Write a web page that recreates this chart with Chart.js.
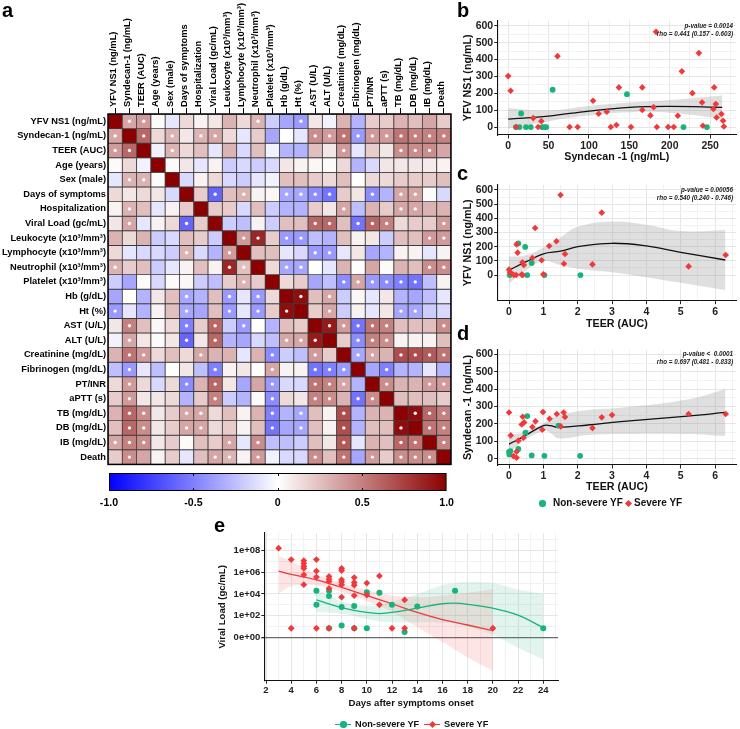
<!DOCTYPE html>
<html><head><meta charset="utf-8">
<script src="https://cdn.jsdelivr.net/npm/chart.js@4.4.1/dist/chart.umd.min.js"></script>
<style>
html,body{margin:0;padding:0;background:#fff}
body{width:740px;height:729px;position:relative;overflow:hidden;font-family:"Liberation Sans",Arial,Helvetica,sans-serif;color:#000}
canvas{position:absolute}
.pl{position:absolute;font-weight:bold;font-size:20px;line-height:20px}
.stat{position:absolute;font-style:italic;font-weight:bold;font-size:6.3px;line-height:8px;text-align:right;color:#222;width:150px}
.lg{position:absolute;font-weight:bold;white-space:nowrap;color:#111}
.dot{position:absolute;border-radius:50%}
.dia{position:absolute;transform:rotate(45deg)}
.ln{position:absolute;height:1.3px}
</style></head><body>
<canvas id="heat" width="455" height="472" style="left:0px;top:0px"></canvas>
<canvas id="cbar" width="460" height="42" style="left:0px;top:470px"></canvas>
<canvas id="pb" width="285" height="170" style="left:455px;top:0px"></canvas>
<canvas id="pc" width="285" height="170" style="left:455px;top:165px"></canvas>
<canvas id="pd" width="285" height="165" style="left:455px;top:330px"></canvas>
<canvas id="pe" width="365" height="205" style="left:200px;top:510px"></canvas>

<div class="pl" style="left:2px;top:0px">a</div>
<div class="pl" style="left:457px;top:0px">b</div>
<div class="pl" style="left:457px;top:163px">c</div>
<div class="pl" style="left:457px;top:323px">d</div>
<div class="pl" style="left:214px;top:515px">e</div>

<div class="stat" style="left:583px;top:22px">p-value = 0.0014<br>rho = 0.441 (0.157 - 0.603)</div>
<div class="stat" style="left:583px;top:186px">p-value = 0.00056<br>rho = 0.540 (0.240 - 0.746)</div>
<div class="stat" style="left:583px;top:350px">p-value &lt;&nbsp; 0.0001<br>rho = 0.697 (0.481 - 0.833)</div>

<div class="dot" style="left:539px;top:500px;width:6.5px;height:6.5px;background:#17B37A"></div>
<div class="lg" style="left:553px;top:497px;font-size:10px;line-height:12px">Non-severe YF</div>
<div class="dia" style="left:625.5px;top:500.5px;width:5px;height:5px;background:#F0393B"></div>
<div class="lg" style="left:634px;top:497px;font-size:10px;line-height:12px">Severe YF</div>

<div class="ln" style="left:335px;top:723.5px;width:16px;background:#17B37A"></div>
<div class="dot" style="left:340px;top:721px;width:6.5px;height:6.5px;background:#17B37A"></div>
<div class="lg" style="left:355px;top:718.5px;font-size:9.2px;line-height:11px">Non-severe YF</div>
<div class="ln" style="left:424px;top:723.5px;width:16px;background:#F0393B"></div>
<div class="dia" style="left:429.5px;top:721.5px;width:5px;height:5px;background:#F0393B"></div>
<div class="lg" style="left:444px;top:718.5px;font-size:9.2px;line-height:11px">Severe YF</div>

<script>
// ---------------- DATA ----------------
const varLabels = ['YFV NS1 (ng/mL)','Syndecan-1 (ng/mL)','TEER (AUC)','Age (years)','Sex (male)','Days of symptoms','Hospitalization','Viral Load (gc/mL)','Leukocyte (x10³/mm³)','Lymphocyte (x10³/mm³)','Neutrophil (x10³/mm³)','Platelet (x10³/mm³)','Hb (g/dL)','Ht (%)','AST (U/L)','ALT (U/L)','Creatinine (mg/dL)','Fibrinogen (mg/dL)','PT/INR','aPTT (s)','TB (mg/dL)','DB (mg/dL)','IB (mg/dL)','Death'];

const corrYFV   = [1,0.35,0.4,0.02,-0.1,0.15,0.05,0.1,0.3,0.15,0.3,-0.2,-0.35,-0.4,0.1,-0.05,0.3,-0.3,0.2,0.2,0.3,0.25,0.35,0.2];
const corrSyn   = [0.35,1,0.6,0.15,0.3,0.1,0.3,0.35,0.15,-0.1,0.2,-0.35,0,-0.1,0.45,0.4,0.55,-0.4,0.4,0.4,0.55,0.5,0.5,0.5];
const corrTEER  = [0.4,0.6,1,-0.05,0.3,0.15,0.25,-0.1,0.3,-0.15,0.25,-0.05,-0.3,-0.3,0.25,0.1,0.4,-0.1,0.2,0.1,0.45,0.45,0.45,0.35];
const corrAge   = [0.02,0.15,-0.05,1,0.02,0.1,-0.1,0.05,-0.2,-0.15,-0.2,-0.15,0.1,0.05,0.03,0.02,0.15,-0.3,-0.15,0.1,0.1,0.1,0.08,0.05];
const corrSex   = [-0.1,0.3,0.3,0.02,1,-0.15,0.05,0.15,-0.15,-0.2,-0.1,-0.05,0.25,0.25,0.2,0.15,0.25,0,0.15,0.15,0.2,0.2,0.2,0.25];
const corrDays  = [0.15,0.1,0.15,0.1,-0.15,1,0.2,-0.6,0.25,0.3,0.05,0.03,-0.35,-0.35,-0.45,-0.55,0.2,0.1,-0.45,-0.3,0.35,0.35,0.02,-0.15];
const corrHosp  = [0.05,0.3,0.25,-0.1,0.05,0.2,1,0.2,0.2,-0.15,0.25,-0.2,-0.3,-0.3,0.2,0.1,0.35,-0.25,0.3,0.2,0.35,0.35,0.3,0.3];
const corrVL    = [0.1,0.35,-0.1,0.05,0.15,-0.6,0.2,1,-0.2,-0.25,0.05,-0.2,0.25,0.25,0.6,0.6,0.25,-0.55,0.6,0.5,0.15,0.2,0.2,0.4];
const corrLeuk  = [0.3,0.15,0.3,-0.2,-0.15,0.25,0.2,-0.2,1,0.4,0.85,0.2,-0.4,-0.4,-0.25,-0.3,0.25,0.05,0.1,-0.2,0.25,0.25,0.4,0.4];
const corrLymph = [0.15,-0.1,-0.15,-0.15,-0.2,0.3,-0.15,-0.3,0.4,1,0.25,0.25,-0.1,-0.15,-0.4,-0.4,-0.1,0.1,-0.35,-0.3,0.05,0.05,-0.1,0.05];
const corrNeut  = [0.3,0.2,0.25,-0.2,-0.1,0.05,0.25,0.05,0.85,0.25,1,0.15,-0.35,-0.35,0,-0.1,0.3,0,0.35,0.02,0.3,0.25,0.45,0.45];
const corrPlat  = [-0.2,-0.35,0.02,-0.15,0.02,0.03,-0.2,-0.25,0.2,0.3,0.2,1,0.15,0.2,-0.35,-0.25,-0.45,0.35,-0.4,-0.45,-0.5,-0.55,-0.25,0.05];
const corrHb    = [-0.35,0,-0.3,0.1,0.25,-0.35,-0.3,0.25,-0.4,-0.1,-0.4,0.15,1,0.95,0.25,0.35,-0.2,0.03,-0.1,0.1,-0.3,-0.35,-0.25,-0.1];
const corrHt    = [-0.4,-0.1,-0.3,0.05,0.25,-0.35,-0.35,0.25,-0.4,-0.1,-0.4,0.2,0.95,1,0.2,0.35,-0.2,0.05,-0.1,0.1,-0.35,-0.35,-0.2,-0.15];
const corrAST   = [0.1,0.5,0.25,0.03,0.15,-0.5,0.2,0.6,-0.2,-0.4,0,-0.3,0.25,0.2,1,0.9,0.4,-0.55,0.55,0.5,0.25,0.25,0.25,0.45];
const corrALT   = [-0.05,0.35,0.1,0.02,0.1,-0.6,0.1,0.6,-0.3,-0.35,-0.15,-0.25,0.35,0.35,0.9,1,0.2,-0.45,0.5,0.45,0.05,0.05,0.05,0.25];
const corrCreat = [0.3,0.55,0.4,0.15,0.25,0.15,0.35,0.3,0.3,-0.1,0.3,-0.45,-0.2,-0.25,0.4,0.2,1,-0.35,0.35,0.3,0.7,0.7,0.65,0.55];
const corrFibr  = [-0.25,-0.4,-0.1,-0.25,0,0.1,-0.25,-0.5,0.05,0.1,0,0.35,0.05,0.05,-0.55,-0.5,-0.4,1,-0.35,-0.5,-0.3,-0.3,-0.1,-0.3];
const corrPT    = [0.15,0.4,0.15,-0.15,0.15,-0.45,0.3,0.6,0.1,-0.35,0.35,-0.4,-0.15,-0.15,0.55,0.5,0.35,-0.3,1,0.45,0.3,0.3,0.4,0.4];
const corrAPTT  = [0.2,0.4,0.1,0.1,0.15,-0.3,0.2,0.5,-0.2,-0.3,0.02,-0.45,0.15,0.1,0.5,0.45,0.3,-0.55,0.45,1,0.25,0.25,0.25,0.2];
const corrTB    = [0.3,0.6,0.45,0.1,0.2,0.35,0.35,0.15,0.25,0.05,0.3,-0.5,-0.3,-0.35,0.25,0.05,0.7,-0.3,0.3,0.3,1,0.95,0.6,0.5];
const corrDB    = [0.25,0.6,0.45,0.1,0.2,0.35,0.35,0.15,0.2,0.05,0.25,-0.55,-0.35,-0.35,0.25,0.05,0.7,-0.3,0.25,0.25,0.95,1,0.55,0.5];
const corrIB    = [0.35,0.5,0.45,0.1,0.2,0.02,0.25,0.2,0.35,-0.1,0.45,-0.25,-0.25,-0.2,0.25,0.1,0.65,-0.1,0.3,0.25,0.6,0.55,1,0.5];
const corrDeath = [0.2,0.45,0.35,0.05,0.2,-0.1,0.25,0.35,0.3,0.05,0.4,-0.05,-0.15,-0.15,0.45,0.25,0.55,-0.35,0.4,0.2,0.45,0.45,0.45,1];
const corrRows = [corrYFV,corrSyn,corrTEER,corrAge,corrSex,corrDays,corrHosp,corrVL,corrLeuk,corrLymph,corrNeut,corrPlat,corrHb,corrHt,corrAST,corrALT,corrCreat,corrFibr,corrPT,corrAPTT,corrTB,corrDB,corrIB,corrDeath];

// significant cells (column indexes) per row
const sigCols = [
 [1,2,10,13],[0,2,4,6,7,14,15,16,17,18,19,20,21,22,23],[0,1,4,16,20,21,22],[],[1,2],
 [7,9,12,13,14,15,18,20,21],[1,16,20,21],[1,5,14,15,17,18,19,23],[9,10,12,13,22,23],[5,8,14,15],
 [0,8,9,12,13,22,23],[9,16,17,18,19,20,21],[5,8,10,13,15],[0,5,8,10,12,15,20,21],
 [1,5,7,9,15,16,17,18,19,23],[1,5,7,12,13,14,17,18,19],[1,2,6,11,14,17,18,20,21,22,23],
 [1,7,11,14,15,16,19],[1,5,7,11,14,15,16,19,22,23],[1,7,11,14,15,17,18],
 [1,2,5,6,11,13,16,21,22,23],[1,2,5,6,11,13,16,20,22,23],[0,1,2,8,10,16,20,21,23],[1,7,8,10,14,16,18,20,21,22]
];
const colorbarTicks = [-1,-0.5,0,0.5,1];

// panel b: Syndecan-1 vs YFV NS1
const bNonSevX = [9.5,14,16,22,28,42,45,47,55,147,217,246];
const bNonSevY = [0,0,81,0,0,0,0,0,221,195,0,0];
const bSevX = [0,3,10,31,37,41,61,76,86,105,112,122,127,134,137,152,166,166,176,180,183,184,198,205,210,215,228,236,240,241,255,254,257,258,264,266,267];
const bSevY = [302,215,0,53,0,35,420,0,0,156,79,91,0,12,235,0,235,101,69,118,564,0,0,0,67,330,201,438,146,8,235,107,136,57,77,37,3];
const bFitX = [0,50,100,150,200,265];
const bFit  = [47,65,95,117,122,117];
const bLo   = [-8,35,68,88,85,50];
const bHi   = [112,98,125,145,160,187];

// panel c: TEER vs YFV NS1
const cNonSevX = [0.02,0.27,0.47,0.53,0.66,1.03,2.08];
const cNonSevY = [0,224,198,0,85,0,0];
const cSevX = [0,0.03,0.08,0.14,0.21,0.22,0.25,0.37,0.39,0.4,0.43,0.68,0.76,0.95,1.0,1.17,1.38,1.5,1.6,1.63,2.43,2.7,5.23,6.31];
const cSevY = [38,19,9,0,0,216,158,3,89,0,71,120,332,104,5,205,238,565,80,148,75,440,61,141];
const cFitX = [0,0.5,1,1.5,2,3,4,5,6.3];
const cFit  = [35,94,150,168,200,224,205,160,106];
const cLo   = [-60,35,100,70,45,20,-15,-55,-106];
const cHi   = [130,140,195,265,340,378,355,310,318];

// panel d: TEER vs Syndecan-1
const dNonSevX = [0,0.01,0.04,0.27,0.48,0.53,0.66,1.03,1.44,2.07];
const dNonSevY = [40,25,44,56,150,245,19,17,190,17];
const dSevX = [0,0.05,0.13,0.22,0.22,0.27,0.37,0.4,0.42,0.44,0.68,0.77,0.99,0.97,1.18,1.39,1.51,1.59,1.63,2.43,2.7,3.0,5.23,6.31];
const dSevY = [266,134,15,6,40,104,197,241,121,209,182,215,268,167,230,257,186,266,240,176,238,251,257,257];
const dFitX = [0,0.37,1,1.2,1.45,2.3,3.25,5.2,6.3];
const dFit  = [84,121,190,190,180,194,213,245,266];
const dLo   = [31,95,161,150,117,136,142,142,130];
const dHi   = [136,150,203,230,251,280,293,341,400];

// panel e: days vs log10 viral load (gc/mL)
const eSevDays  = [3,4,4,5,5,5,5,5,5,6,6,6,6,7,7,7,7,7,8,8,8,8,8,8,9,9,9,9,9,10,10,11,11,12,13,13,20];
const eSevLogVL = [8.2,7.15,0.85,7.05,6.8,6.55,6.35,5.75,4.85,7.15,6.1,5.55,0.85,5.6,5.35,5.15,4.5,0.85,6.35,6.15,5.3,5.1,4.85,3.7,5.5,5.05,4.8,3.85,0.85,5.0,3.9,5.65,3.0,0.85,3.45,0.85,0.85];
const eNonDays  = [6,6,7,7,7,8,8,9,9,10,10,11,12,13,14,17,24];
const eNonLogVL = [4.3,3.0,4.3,3.8,0.85,2.8,1.1,2.9,0.85,4.15,0.85,4.1,3.0,0.5,2.85,4.3,0.85];
const eSevFitDays = [3,4,6,8,10,12,14,16,18,20];
const eSevFit = [6.1,5.8,5.3,4.6,3.85,3.1,2.3,1.65,1.15,0.63];
const eSevLo  = [4.0,4.7,4.8,4.2,3.35,2.35,0.95,-0.4,-1.8,-3.05];
const eSevHi  = [7.45,7.0,5.8,5.0,4.35,3.85,3.7,3.85,4.1,4.45];
const eNonFitDays = [6,8,10,11,12,14,16,17,18,20,22,24];
const eNonFit = [3.45,2.75,2.3,2.2,2.3,2.7,3.1,3.15,3.05,2.7,2.05,0.9];
const eNonLo  = [2.35,2.2,1.7,1.5,1.4,1.4,1.35,1.3,1.0,0.25,-0.95,-2.0];
const eNonHi  = [4.4,3.3,2.9,3.0,3.3,4.0,4.8,5.0,5.1,5.0,4.4,4.0];

const ticksB_X = [0,50,100,150,200,250], ticksNS1 = [0,100,200,300,400,500,600];
const ticksTEER = [0,1,2,3,4,5,6];
const ticksE_X = [2,4,6,8,10,12,14,16,18,20,22,24], ticksE_Y = [0,2,4,6,8];

// ---------------- STYLE / RENDER ----------------
const FONT = 'Liberation Sans';
Chart.defaults.font.family = FONT;
Chart.defaults.color = '#000';
const RED = '#F0393B', GREEN = '#17B37A';

function corrColor(v){
  let r,g,b;
  if (v < 0){ const t = -v; r = Math.round(255*(1-t)); g = r; b = 255; }
  else { r = Math.round(255-(255-139)*v); g = Math.round(255*(1-v)); b = g; }
  return 'rgb('+r+','+g+','+b+')';
}

// Heatmap
const heatDatasets = corrRows.map((row, r) => ({
  type:'bar',
  data: row.map(() => [r, r+1]),
  backgroundColor: row.map(v => corrColor(v)),
  borderColor:'#3c3c3c', borderWidth:0.8, borderSkipped:false,
  grouped:false, barPercentage:1, categoryPercentage:1, order:2
}));
const sigPoints = [];
sigCols.forEach((cols, r) => cols.forEach(c => sigPoints.push({x: varLabels[c], y: r+0.5})));
heatDatasets.push({type:'scatter', data:sigPoints, pointRadius:1.7, pointBackgroundColor:'#ffffff', pointBorderWidth:0, showLine:false, order:-1});

const frame = {id:'frame', afterDatasetsDraw(chart, args, opts){
  const a = chart.chartArea, c = chart.ctx;
  c.save(); c.strokeStyle='#000'; c.lineWidth=opts.w||1.5;
  c.strokeRect(a.left, a.top, a.right-a.left, a.bottom-a.top); c.restore();
}};

new Chart(document.getElementById('heat'), {
  type:'bar',
  data:{labels:varLabels, datasets:heatDatasets},
  options:{
    responsive:false, animation:false, devicePixelRatio:1,
    layout:{padding:{left:0,right:4,top:0,bottom:2}},
    plugins:{legend:{display:false}, tooltip:{enabled:false}, frame:{w:1.5}},
    scales:{
      x:{type:'category', position:'top', offset:true,
         afterFit:s=>{s.height=114;},
         grid:{display:true, drawOnChartArea:false, drawTicks:true, tickLength:6, color:'#000', offset:false},
         border:{display:false},
         ticks:{autoSkip:false, minRotation:90, maxRotation:90, padding:1, labelOffset:9, color:'#000', font:{family:FONT, weight:'bold', size:9.3}}},
      y:{type:'linear', min:0, max:24, reverse:true,
         afterBuildTicks:s=>{ s.ticks = varLabels.map((_,i)=>({value:i+0.5})); },
         afterFit:s=>{s.width=108;},
         grid:{display:false, drawTicks:false},
         border:{display:false},
         ticks:{autoSkip:false, padding:2, color:'#000', font:{family:FONT, weight:'bold', size:9.3},
                callback:(v,i)=>varLabels[i]}}
    }
  },
  plugins:[frame]
});

// Colorbar
const cbTickMarks = {id:'cbTickMarks', afterDatasetsDraw(chart){
  const a = chart.chartArea, c = chart.ctx, sx = chart.scales.x;
  c.save(); c.strokeStyle='#000'; c.lineWidth=1;
  colorbarTicks.slice(1,-1).forEach(v=>{
    const x = Math.round(sx.getPixelForValue(v))+0.5;
    c.beginPath(); c.moveTo(x,a.top); c.lineTo(x,a.top+3); c.moveTo(x,a.bottom); c.lineTo(x,a.bottom-3); c.stroke();
  });
  c.restore();
}};
new Chart(document.getElementById('cbar'), {
  type:'bar',
  data:{labels:[''], datasets:[{data:[[colorbarTicks[0], colorbarTicks[colorbarTicks.length-1]]],
    backgroundColor:ctx=>{
      const ca = ctx.chart.chartArea; if(!ca) return '#fff';
      const g = ctx.chart.ctx.createLinearGradient(ca.left,0,ca.right,0);
      g.addColorStop(0,corrColor(-1)); g.addColorStop(0.5,corrColor(0)); g.addColorStop(1,corrColor(1)); return g;
    },
    borderColor:'#000', borderWidth:1.3, borderSkipped:false, barPercentage:1, categoryPercentage:1}]},
  options:{
    indexAxis:'y', responsive:false, animation:false, devicePixelRatio:1,
    layout:{padding:{left:109,right:9,top:3,bottom:0}},
    plugins:{legend:{display:false}, tooltip:{enabled:false}},
    scales:{
      y:{display:false},
      x:{type:'linear', min:-1, max:1,
         afterBuildTicks:s=>{ s.ticks = colorbarTicks.map(v=>({value:v})); },
         afterFit:s=>{s.height=21;},
         grid:{display:false, drawTicks:false}, border:{display:false},
         ticks:{padding:6, color:'#000', font:{family:FONT, weight:'bold', size:10.6},
                callback:v=> v===0 ? '0' : v.toFixed(1)}}
    }
  },
  plugins:[cbTickMarks]
});

// Scatter panels
function pts(xs, ys){ return xs.map((x,i)=>({x:x, y:ys[i]})); }
function panel(id, o){
  const ds = [];
  o.curves.forEach(cv=>{
    ds.push({type:'line', data:pts(cv.x, cv.hi), borderWidth:0, pointRadius:0, fill:'+1', backgroundColor:cv.band, tension:0.4, order:10});
    ds.push({type:'line', data:pts(cv.x, cv.lo), borderWidth:0, pointRadius:0, fill:false, tension:0.4, order:10});
  });
  o.curves.forEach(cv=>{
    ds.push({type:'line', data:pts(cv.x, cv.fit), borderColor:cv.color, borderWidth:1.3, pointRadius:0, fill:false, tension:0.4, order:5});
  });
  ds.push({data:pts(o.gx, o.gy), pointStyle:'circle', pointRadius:o.r, pointBackgroundColor:GREEN, pointBorderWidth:0, order:2});
  ds.push({data:pts(o.rx, o.ry), pointStyle:'rectRot', pointRadius:o.r+0.4, pointBackgroundColor:RED, pointBorderWidth:0, order:1});
  const gridColor = (majors, zero) => ctx => {
    const v = ctx.tick ? ctx.tick.value : null;
    if (zero && v === 0) return '#6b6b6b';
    return majors.includes(v) ? '#e6e6e6' : '#f1f1f1';
  };
  const tickCol = majors => ctx => (ctx.tick && majors.includes(ctx.tick.value)) ? '#222' : 'rgba(0,0,0,0)';
  new Chart(document.getElementById(id), {
    type:'scatter',
    data:{datasets:ds},
    options:{
      responsive:false, animation:false, devicePixelRatio:1,
      layout:{padding:{left:0,right:o.padR,top:o.padT,bottom:0}},
      plugins:{legend:{display:false}, tooltip:{enabled:false}},
      scales:{
        x:{type:'linear', min:o.xMin, max:o.xMax,
           afterBuildTicks:s=>{ s.ticks = o.xGrid.map(v=>({value:v})); },
           afterFit:s=>{ s.height=o.xH; },
           grid:{color:gridColor(o.xMaj,false), lineWidth:1, tickLength:o.tl, tickColor:tickCol(o.xMaj)},
           border:{display:true, color:'#111', width:1.1},
           ticks:{autoSkip:false, maxRotation:0, padding:o.xPad, color:'#222', font:{family:FONT, weight:'bold', size:o.tf},
                  callback:v=> o.xMaj.includes(v) ? String(v) : ''},
           title:{display:true, text:o.xTitle, color:'#111', font:{family:FONT, weight:'bold', size:o.af}, padding:{top:0,bottom:o.xTitlePad}}},
        y:{type:'linear', min:o.yMin, max:o.yMax,
           afterBuildTicks:s=>{ s.ticks = o.yGrid.map(v=>({value:v})); },
           afterFit:s=>{ s.width=o.yW; },
           grid:{color:gridColor(o.yMaj,o.zeroLine), lineWidth:ctx=>(o.zeroLine && ctx.tick && ctx.tick.value===0)?1.3:1, tickLength:o.tl, tickColor:tickCol(o.yMaj)},
           border:{display:true, color:'#111', width:1.1},
           ticks:{autoSkip:false, padding:1, color:'#222', font:{family:FONT, weight:'bold', size:o.tf},
                  callback:v=> o.yMaj.includes(v) ? o.yFmt(v) : ''},
           title:{display:true, text:o.yTitle, color:'#111', font:{family:FONT, weight:'bold', size:o.af}, padding:{top:o.yTitlePad,bottom:0}}}
      }
    }
  });
}
const halfSteps = (a,b,s) => { const r=[]; for(let v=a; v<=b+1e-9; v+=s) r.push(Math.round(v*100)/100); return r; };
const grayBand = 'rgba(150,150,150,0.30)';
const baseNum = v => String(v);

panel('pb', {curves:[{x:bFitX, fit:bFit, lo:bLo, hi:bHi, band:grayBand, color:'#111'}],
  gx:bNonSevX, gy:bNonSevY, rx:bSevX, ry:bSevY, r:2.9,
  xMin:-13, xMax:282, yMin:-47, yMax:630,
  xGrid:halfSteps(0,275,25), xMaj:ticksB_X, yGrid:halfSteps(0,600,50), yMaj:ticksNS1, yFmt:baseNum,
  xTitle:'Syndecan -1 (ng/mL)', yTitle:'YFV NS1 (ng/mL)',
  padR:3, padT:20.7, xH:35, yW:42.7, tl:3.5, xPad:1.5, tf:10.5, af:10.7, xTitlePad:6.4, yTitlePad:6.6});

panel('pc', {curves:[{x:cFitX, fit:cFit, lo:cLo, hi:cHi, band:grayBand, color:'#111'}],
  gx:cNonSevX, gy:cNonSevY, rx:cSevX, ry:cSevY, r:2.9,
  xMin:-0.33, xMax:6.61, yMin:-181, yMax:635,
  xGrid:halfSteps(0,6.5,0.5), xMaj:ticksTEER, yGrid:halfSteps(0,600,50), yMaj:ticksNS1, yFmt:baseNum,
  xTitle:'TEER (AUC)', yTitle:'YFV NS1 (ng/mL)',
  padR:3, padT:20, xH:34.3, yW:42.7, tl:3.5, xPad:1.5, tf:10.5, af:10.7, xTitlePad:4.6, yTitlePad:6.6});

panel('pd', {curves:[{x:dFitX, fit:dFit, lo:dLo, hi:dHi, band:grayBand, color:'#111'}],
  gx:dNonSevX, gy:dNonSevY, rx:dSevX, ry:dSevY, r:2.9,
  xMin:-0.33, xMax:6.61, yMin:-36, yMax:625,
  xGrid:halfSteps(0,6.5,0.5), xMaj:ticksTEER, yGrid:halfSteps(0,600,50), yMaj:ticksNS1, yFmt:baseNum,
  xTitle:'TEER (AUC)', yTitle:'Syndecan -1 (ng/mL)',
  padR:3, padT:20, xH:30, yW:42.7, tl:3.5, xPad:1.5, tf:10.5, af:10.7, xTitlePad:1.6, yTitlePad:6.6});

panel('pe', {curves:[
    {x:eNonFitDays, fit:eNonFit, lo:eNonLo, hi:eNonHi, band:'rgba(23,179,122,0.13)', color:GREEN},
    {x:eSevFitDays, fit:eSevFit, lo:eSevLo, hi:eSevHi, band:'rgba(240,57,59,0.13)', color:RED}],
  gx:eNonDays, gy:eNonLogVL, rx:eSevDays, ry:eSevLogVL, r:3, zeroLine:true,
  xMin:1.865, xMax:25.17, yMin:-3.96, yMax:9.59,
  xGrid:halfSteps(2,25,1), xMaj:ticksE_X, yGrid:halfSteps(0,9,1), yMaj:ticksE_Y,
  yFmt:v=> v===0 ? '0e+00' : '1e+' + String(v).padStart(2,'0'),
  xTitle:'Days after symptoms onset', yTitle:'Viral Load (gc/mL)',
  padR:7, padT:23, xH:34.3, yW:64.3, tl:3, xPad:1, tf:9.5, af:9.6, xTitlePad:6.3, yTitlePad:17});
</script>
</body></html>
